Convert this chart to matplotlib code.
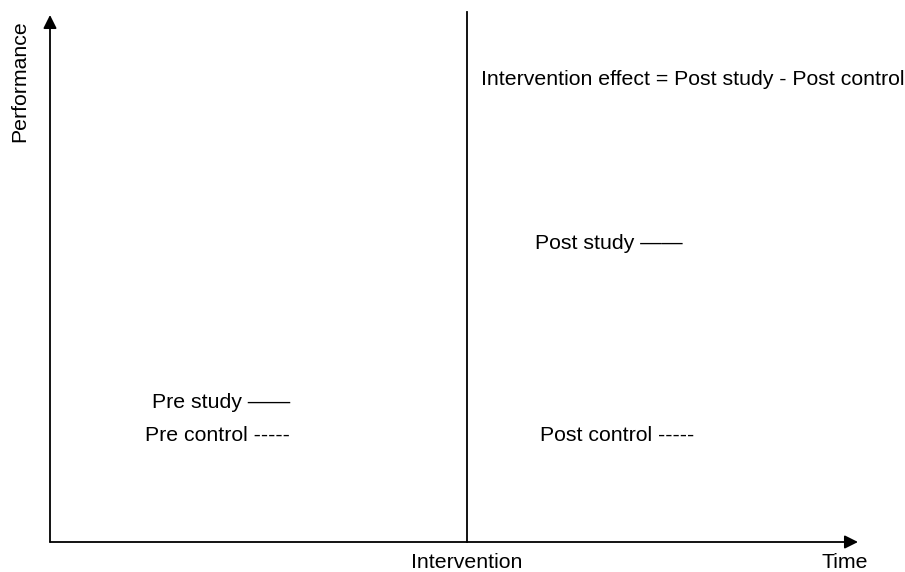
import matplotlib.pyplot as plt

plt.rcParams['font.family'] = ['Liberation Sans', 'DejaVu Sans']

# Schematic levels (time 0-10, performance 0-10)
intervention_time = 5.16
pre_labels = ['Pre study \u2014\u2014', 'Pre control -----']
pre_levels = [2.64, 2.03]
pre_time = 2.97
post_labels = ['Post study \u2014\u2014', 'Post control -----']
post_levels = [5.67, 2.03]
post_time = [6.91, 7.02]
effect_text = 'Intervention effect = Post study - Post control'
effect_level = 8.77

fig = plt.figure(figsize=(9.05, 5.72), dpi=100)
ax = fig.add_axes([50/905, 30/572, 808/905, 527/572])
ax.set_xlim(0, 10)
ax.set_ylim(0, 10)
for s in ['top', 'right', 'left', 'bottom']:
    ax.spines[s].set_visible(False)
ax.set_xticks([])
ax.set_yticks([])

# axes with arrow heads
arrow = dict(arrowstyle='-|>', color='k', lw=1.3, mutation_scale=20, shrinkA=0, shrinkB=0)
ax.annotate('', xy=(0, 1), xytext=(0, 0), xycoords='axes fraction', arrowprops=arrow)
ax.annotate('', xy=(1, 0), xytext=(0, 0), xycoords='axes fraction', arrowprops=arrow)

# intervention line
ax.axvline(intervention_time, ymin=0, ymax=1.006, color='k', lw=1.3, clip_on=False)

fs = 15.3
for lab, lev in zip(pre_labels, pre_levels):
    ax.text(pre_time, lev, lab, ha='right', va='center', fontsize=fs)
for lab, lev, t in zip(post_labels, post_levels, post_time):
    ax.text(t, lev, lab, ha='center', va='center', fontsize=fs)
ax.text(intervention_time + 0.17, effect_level, effect_text, ha='left', va='center', fontsize=fs)

ax.text(intervention_time, -0.38, 'Intervention', ha='center', va='center', fontsize=fs)
ax.text(9.83, -0.38, 'Time', ha='center', va='center', fontsize=fs)
ax.text(-0.37, 8.75, 'Performance', ha='center', va='center', rotation=90, fontsize=fs)

fig.savefig('out.png', dpi=100)
